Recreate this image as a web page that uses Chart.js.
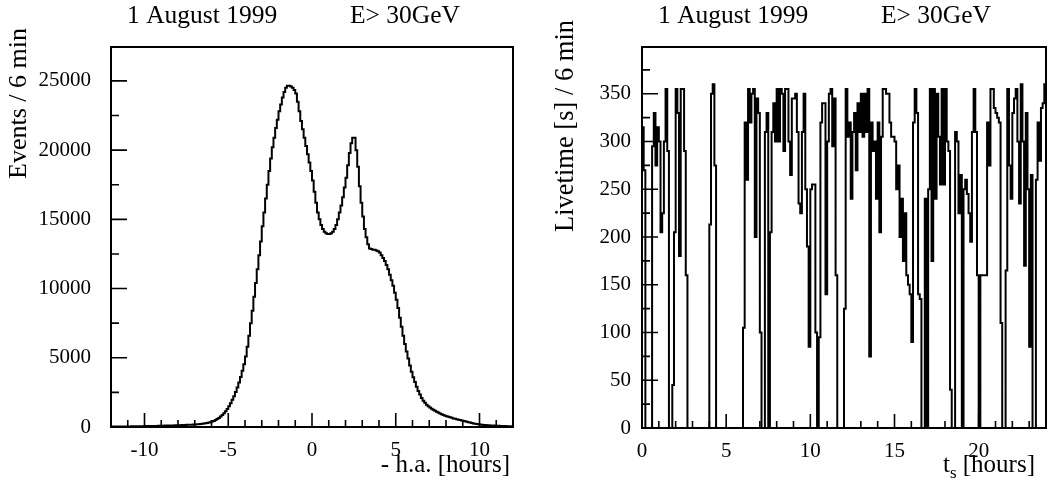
<!DOCTYPE html>
<html>
<head>
<meta charset="utf-8">
<script src="https://cdn.jsdelivr.net/npm/chart.js@4.4.0/dist/chart.umd.min.js"></script>
<style>
  body { margin: 0; background: #fff; }
  #wrap { position: relative; width: 1050px; height: 490px; }
  canvas { position: absolute; top: 0; }
</style>
</head>
<body>
<div id="wrap">
  <canvas id="haChart" width="525" height="490" style="left:0"></canvas>
  <canvas id="liveChart" width="525" height="490" style="left:525px"></canvas>
</div>
<script>
// bins are 6 min = 0.1 h wide
const binWidth = 0.1;

// events per bin, -h.a. from -12 h to +12 h (one row per hour)
const haStart = -12;
const events = [
  30, 30, 35, 35, 35, 40, 40, 40, 40, 45,
  45, 45, 50, 50, 50, 55, 55, 60, 60, 60,
  65, 65, 70, 70, 75, 75, 80, 80, 85, 90,
  90, 95, 100, 100, 105, 110, 110, 115, 120, 125,
  130, 135, 140, 145, 150, 155, 160, 165, 170, 180,
  185, 195, 205, 215, 230, 245, 265, 290, 320, 350,
  390, 440, 500, 570, 650, 750, 860, 990, 1130, 1300,
  1500, 1720, 1960, 2230, 2530, 2860, 3220, 3620, 4060, 4530,
  5100, 5800, 6600, 7500, 8400, 9400, 10400, 11400, 12400, 13400,
  14500, 15500, 16500, 17500, 18500, 19400, 20200, 20900, 21600, 22200,
  22800, 23300, 23800, 24200, 24500, 24650, 24650, 24600, 24500, 24350,
  24100, 23500, 22800, 22100, 21500, 20900, 20300, 19700, 19100, 18500,
  17800, 17000, 16200, 15500, 15000, 14600, 14300, 14100, 14000, 13950,
  13950, 14000, 14100, 14300, 14600, 15000, 15500, 16000, 16600, 17300,
  18000, 18900, 19800, 20500, 20900, 20900, 20000, 18800, 17400, 16200,
  15200, 14300, 13700, 13200, 12900, 12850, 12800, 12800, 12750, 12700,
  12600, 12400, 12200, 12000, 11700, 11400, 11000, 10600, 10200, 9700,
  9200, 8600, 7900, 7250, 6600, 6000, 5450, 4950, 4450, 4000,
  3600, 3250, 2900, 2600, 2350, 2100, 1900, 1750, 1600, 1500,
  1400, 1320, 1240, 1170, 1100, 1040, 980, 920, 870, 820,
  780, 740, 700, 660, 620, 590, 560, 530, 500, 470,
  440, 410, 380, 350, 320, 290, 260, 240, 220, 200,
  180, 165, 150, 140, 130, 120, 110, 105, 100, 95,
  90, 85, 80, 75, 70, 65, 60, 55, 50, 50
];

// livetime [s] per bin, t_s from 0 h to 24 h (one row per hour)
const tsStart = 0;
const livetime = [
  315, 270, 0, 0, 0, 0, 295, 330, 275, 315,
  300, 205, 225, 300, 355, 290, 0, 0, 45, 205,
  355, 330, 180, 355, 355, 290, 160, 0, 0, 0,
  0, 0, 0, 0, 0, 0, 0, 0, 0, 0,
  213, 350, 360, 275, 0, 0, 0, 0, 0, 0,
  0, 0, 0, 0, 0, 0, 0, 0, 0, 0,
  105, 320, 260, 355, 320, 350, 355, 200, 345, 330,
  100, 0, 0, 310, 330, 0, 205, 310, 340, 300,
  355, 300, 355, 350, 290, 355, 355, 300, 265, 345,
  345, 350, 310, 235, 225, 310, 350, 250, 190, 85,
  250, 255, 255, 100, 0, 95, 320, 340, 340, 140,
  300, 350, 355, 295, 345, 160, 0, 0, 0, 0,
  125, 355, 305, 320, 240, 310, 330, 270, 340, 310,
  350, 305, 350, 310, 355, 75, 320, 290, 300, 240,
  320, 205, 305, 355, 355, 350, 350, 320, 305, 305,
  300, 250, 275, 200, 240, 175, 225, 160, 150, 140,
  90, 320, 355, 330, 140, 135, 0, 0, 240, 0,
  250, 355, 175, 355, 240, 350, 305, 255, 355, 255,
  355, 300, 290, 40, 0, 0, 310, 300, 225, 265,
  0, 250, 260, 245, 225, 195, 310, 355, 310, 160,
  0, 160, 160, 160, 160, 320, 275, 355, 355, 335,
  330, 325, 320, 110, 0, 0, 165, 355, 275, 240,
  330, 345, 355, 300, 235, 360, 300, 170, 330, 250,
  85, 265, 0, 0, 260, 320, 280, 335, 340, 360
];

const haTicks = [-10, -5, 0, 5, 10];
const eventTicks = [0, 5000, 10000, 15000, 20000, 25000];
const tsTicks = [0, 5, 10, 15, 20];
const liveTicks = [0, 50, 100, 150, 200, 250, 300, 350];

const SERIF = "'Liberation Serif', 'DejaVu Serif', serif";

// histogram -> points at the lower bin edges, plus the last upper edge
function toSteps(start, values) {
  const pts = values.map((v, i) => ({ x: +(start + i * binWidth).toFixed(2), y: v }));
  pts.push({ x: +(start + values.length * binWidth).toFixed(2), y: values[values.length - 1] });
  return pts;
}

// ROOT-like frame: box, ticks pointing inwards, titles
const rootFrame = {
  id: 'rootFrame',
  afterDraw(chart, args, o) {
    const { ctx, chartArea: a, scales: { x, y } } = chart;
    ctx.save();
    ctx.strokeStyle = '#000';
    ctx.lineWidth = 2;
    ctx.strokeRect(a.left, a.top, a.right - a.left, a.bottom - a.top);

    ctx.lineWidth = 1.6;
    ctx.beginPath();
    for (let v = Math.ceil(x.min / o.xMinor) * o.xMinor; v <= x.max; v += o.xMinor) {
      const px = x.getPixelForValue(v);
      const len = Math.abs(v % o.xMajor) < 1e-9 ? 14 : 7;
      ctx.moveTo(px, a.bottom);
      ctx.lineTo(px, a.bottom - len);
    }
    for (let v = 0; v <= y.max; v += o.yMinor) {
      const py = y.getPixelForValue(v);
      const len = Math.abs(v % o.yMajor) < 1e-9 ? 16 : 8;
      ctx.moveTo(a.left, py);
      ctx.lineTo(a.left + len, py);
    }
    ctx.stroke();

    ctx.fillStyle = '#000';
    ctx.font = '25.5px ' + SERIF;
    ctx.textBaseline = 'alphabetic';
    ctx.textAlign = 'left';
    ctx.fillText('1 August 1999', o.titleX, 23);
    ctx.fillText('E> 30GeV', o.energyX, 23);

    // y title, rotated, right aligned to the top
    ctx.save();
    ctx.font = o.yTitleSize + 'px ' + SERIF;
    ctx.translate(o.yTitleX, o.yTitleTop);
    ctx.rotate(-Math.PI / 2);
    ctx.textAlign = 'right';
    ctx.textBaseline = 'middle';
    ctx.fillText(o.yTitle, 0, 0);
    ctx.restore();

    // x title, right aligned
    ctx.textAlign = 'left';
    let cx = o.xTitleRight;
    const parts = o.xTitle.slice().reverse();
    for (const p of parts) {
      ctx.font = (p.sub ? '17px ' : '25px ') + SERIF;
      cx -= ctx.measureText(p.text).width;
      ctx.fillText(p.text, cx, p.sub ? 478 : 472);
    }
    ctx.restore();
  }
};

function histChart(id, start, values, cfg) {
  return new Chart(document.getElementById(id), {
    type: 'line',
    data: {
      datasets: [{
        data: toSteps(start, values),
        stepped: true,
        borderColor: '#000',
        borderWidth: 2,
        pointRadius: 0,
        fill: false
      }]
    },
    options: {
      responsive: false,
      animation: false,
      devicePixelRatio: 1,
      layout: { padding: { left: 0, top: 47, right: cfg.padRight, bottom: 0 } },
      plugins: {
        legend: { display: false },
        tooltip: { enabled: false },
        rootFrame: cfg.frame
      },
      scales: {
        x: {
          type: 'linear',
          min: cfg.xMin,
          max: cfg.xMax,
          grid: { display: false, drawTicks: false },
          border: { display: false },
          afterBuildTicks: s => { s.ticks = cfg.xTicks.map(v => ({ value: v })); },
          afterFit: s => { s.height = cfg.xHeight; },
          ticks: {
            color: '#000',
            font: { family: SERIF, size: 21 },
            padding: 11,
            maxRotation: 0,
            callback: v => String(v)
          }
        },
        y: {
          type: 'linear',
          min: 0,
          max: cfg.yMax,
          grid: { display: false, drawTicks: false },
          border: { display: false },
          afterBuildTicks: s => { s.ticks = cfg.yTicks.map(v => ({ value: v })); },
          afterFit: s => { s.width = cfg.yWidth; },
          ticks: {
            color: '#000',
            font: { family: SERIF, size: 21 },
            padding: cfg.yPad,
            callback: v => String(v)
          }
        }
      }
    },
    plugins: [rootFrame]
  });
}

histChart('haChart', haStart, events, {
  xMin: -12, xMax: 12, yMax: 27450,
  xTicks: haTicks, yTicks: eventTicks,
  yWidth: 111, xHeight: 63, padRight: 12, yPad: 20,
  frame: {
    xMinor: 1, xMajor: 5, yMinor: 2500, yMajor: 5000,
    titleX: 127, energyX: 350,
    yTitle: 'Events / 6 min', yTitleSize: 26, yTitleX: 19, yTitleTop: 28,
    xTitle: [{ text: '- h.a. [hours]' }], xTitleRight: 510
  }
});

histChart('liveChart', tsStart, livetime, {
  xMin: 0, xMax: 24, yMax: 399,
  xTicks: tsTicks, yTicks: liveTicks,
  yWidth: 117, xHeight: 62, padRight: 4, yPad: 11,
  frame: {
    xMinor: 1, xMajor: 5, yMinor: 25, yMajor: 50,
    titleX: 133, energyX: 356,
    yTitle: 'Livetime [s] / 6 min', yTitleSize: 26.5, yTitleX: 41, yTitleTop: 20,
    xTitle: [{ text: 't' }, { text: 's', sub: true }, { text: ' [hours]' }], xTitleRight: 510
  }
});
</script>
</body>
</html>
